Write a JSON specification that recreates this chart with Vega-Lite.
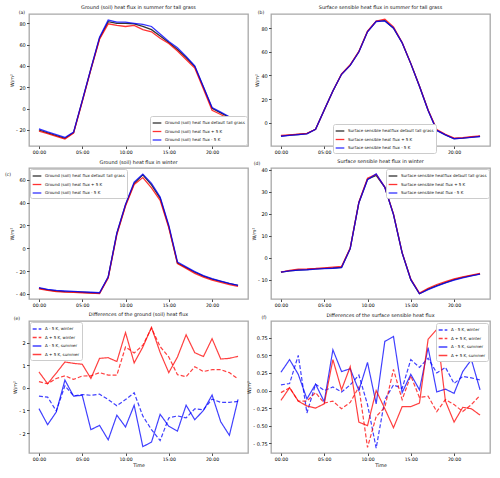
{
  "$schema": "https://vega.github.io/schema/vega-lite/v6.json",
  "background": "white",
  "padding": {"left": 4, "top": 4, "right": 2, "bottom": 2},
  "datasets": {
    "a": [
      {"h":0,"d":-20,"p":-21,"m":-19},{"h":1,"d":-22.6,"p":-23.4,"m":-21.8},{"h":2,"d":-25.2,"p":-26,"m":-24.4},
      {"h":3,"d":-27.8,"p":-28.5,"m":-27},{"h":4,"d":-22.5,"p":-23,"m":-22},{"h":5,"d":7,"p":6.5,"m":7.5},
      {"h":6,"d":37,"p":36.5,"m":37.5},{"h":7,"d":66,"p":65,"m":67},{"h":8,"d":81.5,"p":79.5,"m":83},
      {"h":9,"d":80,"p":78,"m":81},{"h":10,"d":80,"p":77,"m":81},{"h":11,"d":79.5,"p":78,"m":80},
      {"h":12,"d":77,"p":74,"m":79},{"h":13,"d":74,"p":72,"m":77},{"h":14,"d":68,"p":66,"m":70},
      {"h":15,"d":62,"p":61,"m":63},{"h":16,"d":55.5,"p":54,"m":57},{"h":17,"d":48,"p":46,"m":49},
      {"h":18,"d":39.5,"p":38,"m":40},{"h":19,"d":20,"p":18.5,"m":20.5},{"h":20,"d":0.3,"p":-1.5,"m":1},
      {"h":21,"d":-4,"p":-5.5,"m":-3.3},{"h":22,"d":-8.2,"p":-9.8,"m":-7.6},{"h":23,"d":-12.5,"p":-14,"m":-12}
    ],
    "b": [
      {"h":0,"d":-11,"p":-10.5,"m":-11.2},{"h":1,"d":-10.3,"p":-10,"m":-10.5},{"h":2,"d":-9.7,"p":-9.4,"m":-9.8},
      {"h":3,"d":-9,"p":-8.8,"m":-9.1},{"h":4,"d":-5.4,"p":-5.4,"m":-5.4},{"h":5,"d":11,"p":11,"m":11},
      {"h":6,"d":27,"p":27,"m":27},{"h":7,"d":41,"p":41.3,"m":41},{"h":8,"d":48.7,"p":49,"m":48.5},
      {"h":9,"d":60,"p":60.3,"m":59.8},{"h":10,"d":77,"p":77.3,"m":76.8},{"h":11,"d":85.6,"p":85.8,"m":85.5},
      {"h":12,"d":86.2,"p":87.5,"m":86},{"h":13,"d":79.8,"p":81,"m":80},{"h":14,"d":67.6,"p":67.8,"m":67.5},
      {"h":15,"d":50,"p":50.2,"m":50},{"h":16,"d":31,"p":31.2,"m":31},{"h":17,"d":10.7,"p":11,"m":10.6},
      {"h":18,"d":-6.2,"p":-5.5,"m":-6.3},{"h":19,"d":-10,"p":-9.5,"m":-10},{"h":20,"d":-13.2,"p":-12.8,"m":-13.3},
      {"h":21,"d":-12.7,"p":-12.3,"m":-12.8},{"h":22,"d":-12,"p":-11.6,"m":-12.1},{"h":23,"d":-11.3,"p":-10.8,"m":-11.4}
    ],
    "c": [
      {"h":0,"d":-35,"p":-35.5,"m":-34.6},{"h":1,"d":-36.5,"p":-37,"m":-36},{"h":2,"d":-37.5,"p":-38,"m":-37},
      {"h":3,"d":-38,"p":-38.4,"m":-37.5},{"h":4,"d":-38.3,"p":-38.7,"m":-37.9},{"h":5,"d":-38.6,"p":-39,"m":-38.2},
      {"h":6,"d":-39,"p":-39.4,"m":-38.6},{"h":7,"d":-39.4,"p":-39.8,"m":-39},{"h":8,"d":-25.4,"p":-26,"m":-25},
      {"h":9,"d":13,"p":12,"m":13.5},{"h":10,"d":38,"p":37,"m":38.5},{"h":11,"d":57,"p":56,"m":58},
      {"h":12,"d":64.4,"p":62,"m":65},{"h":13,"d":55.6,"p":53,"m":57},{"h":14,"d":44,"p":42,"m":45},
      {"h":15,"d":19,"p":18,"m":20},{"h":16,"d":-13,"p":-13.5,"m":-12},{"h":17,"d":-17,"p":-17.6,"m":-16.3},
      {"h":18,"d":-21,"p":-22,"m":-20.5},{"h":19,"d":-24.5,"p":-25.3,"m":-24},{"h":20,"d":-27,"p":-28,"m":-26.7},
      {"h":21,"d":-29,"p":-30,"m":-28.8},{"h":22,"d":-31,"p":-31.8,"m":-30.8},{"h":23,"d":-32.6,"p":-33.5,"m":-32.5}
    ],
    "d": [
      {"h":0,"d":-6.6,"p":-6.6,"m":-6.6},{"h":1,"d":-6,"p":-5.8,"m":-6},{"h":2,"d":-5.6,"p":-5.2,"m":-5.7},
      {"h":3,"d":-5.4,"p":-5.1,"m":-5.5},{"h":4,"d":-5.1,"p":-4.9,"m":-5.2},{"h":5,"d":-4.9,"p":-4.6,"m":-5},
      {"h":6,"d":-4.7,"p":-4.3,"m":-4.8},{"h":7,"d":-4.4,"p":-4,"m":-4.5},{"h":8,"d":4.2,"p":4.4,"m":4.1},
      {"h":9,"d":25,"p":25.2,"m":25},{"h":10,"d":35.7,"p":36.2,"m":35.5},{"h":11,"d":37.4,"p":37.9,"m":38.1},
      {"h":12,"d":32,"p":32.1,"m":32},{"h":13,"d":19.7,"p":19.8,"m":19.6},{"h":14,"d":2.2,"p":2.3,"m":2.2},
      {"h":15,"d":-10,"p":-9.8,"m":-10},{"h":16,"d":-16.4,"p":-16.1,"m":-16.4},{"h":17,"d":-14.3,"p":-13.9,"m":-14.5},
      {"h":18,"d":-12.7,"p":-12.2,"m":-12.9},{"h":19,"d":-11.3,"p":-10.9,"m":-11.5},{"h":20,"d":-10,"p":-9.6,"m":-10.2},
      {"h":21,"d":-9,"p":-8.7,"m":-9.2},{"h":22,"d":-8.2,"p":-7.9,"m":-8.3},{"h":23,"d":-7.4,"p":-7.2,"m":-7.5}
    ],
    "e": [
      {"h":0,"mw":-0.37,"pw":0.27,"ms":-0.92,"ps":0.7},{"h":1,"mw":-0.41,"pw":0.18,"ms":-1.63,"ps":0.18},
      {"h":2,"mw":-1.02,"pw":0.41,"ms":-1.07,"ps":0.65},{"h":3,"mw":0.09,"pw":0.53,"ms":0.34,"ps":1.14},
      {"h":4,"mw":-0.36,"pw":0.37,"ms":-0.37,"ps":1.08},{"h":5,"mw":-0.3,"pw":0.52,"ms":-0.33,"ps":1.04},
      {"h":6,"mw":-0.33,"pw":0.53,"ms":-1.85,"ps":0.41},{"h":7,"mw":-0.28,"pw":0.67,"ms":-1.66,"ps":1.3},
      {"h":8,"mw":-0.52,"pw":0.56,"ms":-2.3,"ps":1.33},{"h":9,"mw":-0.79,"pw":0.56,"ms":-1.21,"ps":1.16},
      {"h":10,"mw":-0.52,"pw":1.8,"ms":-1.73,"ps":2.44},{"h":11,"mw":-0.22,"pw":1.54,"ms":-0.77,"ps":1.1},
      {"h":12,"mw":-1.25,"pw":1.88,"ms":-2.6,"ps":1.8},{"h":13,"mw":-1.85,"pw":2.64,"ms":-2.4,"ps":2.67},
      {"h":14,"mw":-2.33,"pw":1.82,"ms":-1.17,"ps":1.56},{"h":15,"mw":-1.33,"pw":1.36,"ms":-1.7,"ps":0.67},
      {"h":16,"mw":-1.24,"pw":0.58,"ms":-1.91,"ps":1.36},{"h":17,"mw":-1.33,"pw":0.49,"ms":-0.77,"ps":2.34},
      {"h":18,"mw":-0.93,"pw":0.93,"ms":-1.41,"ps":1.55},{"h":19,"mw":-0.97,"pw":0.72,"ms":-1.0,"ps":1.38},
      {"h":20,"mw":-0.5,"pw":0.8,"ms":-0.32,"ps":2.17},{"h":21,"mw":-0.64,"pw":0.8,"ms":-1.5,"ps":1.27},
      {"h":22,"mw":-0.64,"pw":0.67,"ms":-2.1,"ps":1.3},{"h":23,"mw":-0.6,"pw":0.39,"ms":-0.51,"ps":1.39}
    ],
    "f": [
      {"h":0,"mw":0.08,"pw":-0.03,"ms":0.26,"ps":-0.14},{"h":1,"mw":0.1,"pw":0.04,"ms":0.44,"ps":0.04},
      {"h":2,"mw":0.5,"pw":-0.15,"ms":0.23,"ps":-0.15},{"h":3,"mw":-0.32,"pw":-0.15,"ms":-0.12,"ps":-0.22},
      {"h":4,"mw":0.09,"pw":-0.03,"ms":0.09,"ps":-0.25},{"h":5,"mw":0.0,"pw":-0.18,"ms":-0.16,"ps":-0.19},
      {"h":6,"mw":0.05,"pw":-0.15,"ms":0.58,"ps":0.44},{"h":7,"mw":-0.02,"pw":-0.26,"ms":0.27,"ps":0.01},
      {"h":8,"mw":0.08,"pw":-0.17,"ms":0.31,"ps":0.34},{"h":9,"mw":0.22,"pw":0.05,"ms":0.0,"ps":-0.45},
      {"h":10,"mw":-0.2,"pw":-0.81,"ms":0.4,"ps":-0.5},{"h":11,"mw":-0.82,"pw":-0.37,"ms":-0.19,"ps":0.0},
      {"h":12,"mw":-0.13,"pw":-0.24,"ms":0.7,"ps":-0.26},{"h":13,"mw":0.08,"pw":0.3,"ms":0.77,"ps":-0.53},
      {"h":14,"mw":0.03,"pw":-0.13,"ms":-0.03,"ps":-0.23},{"h":15,"mw":0.44,"pw":0.21,"ms":0.23,"ps":-0.23},
      {"h":16,"mw":0.33,"pw":-0.1,"ms":0.01,"ps":-0.18},{"h":17,"mw":0.46,"pw":-0.08,"ms":0.61,"ps":0.73},
      {"h":18,"mw":0.25,"pw":-0.3,"ms":-0.02,"ps":0.87},{"h":19,"mw":0.33,"pw":-0.13,"ms":0.02,"ps":-0.15},
      {"h":20,"mw":0.1,"pw":-0.2,"ms":-0.04,"ps":-0.45},{"h":21,"mw":0.2,"pw":-0.3,"ms":0.27,"ps":-0.24},
      {"h":22,"mw":0.18,"pw":-0.2,"ms":0.44,"ps":-0.26},{"h":23,"mw":0.15,"pw":-0.07,"ms":0.01,"ps":-0.35}
    ]
  },
  "columns": 2,
  "bounds": "flush",
  "spacing": {"row": 22, "column": 23},
  "concat": [
    {
      "width": 219, "height": 132,
      "title": {"text": "Ground (soil) heat flux in summer for tall grass", "offset": -0.3},
      "layer": [
        {
          "data": {"name": "a"},
          "transform": [{"fold": ["d", "p", "m"], "as": ["s", "v"]}],
          "mark": {"type": "line", "strokeWidth": 1.3, "opacity": 0.8},
          "encoding": {
            "x": {"field": "h", "type": "quantitative", "scale": {"domain": [-1.15, 24.15], "nice": false, "zero": false},
                  "axis": {"values": [0, 5, 10, 15, 20], "tickCount": 20, "labelExpr": "(datum.value < 10 ? '0' : '') + datum.value + ':00'", "title": null}},
            "y": {"field": "v", "type": "quantitative", "scale": {"domain": [-35, 88.7], "nice": false, "zero": false},
                  "axis": {"values": [-20, 0, 20, 40, 60, 80], "tickCount": 20, "labelOverlap": false, "labelExpr": "datum.value < 0 ? '- ' + format(-datum.value, 'd') : format(datum.value, 'd')", "title": "W/m²"}},
            "color": {"field": "s", "type": "nominal", "scale": {"domain": ["d", "p", "m"], "range": ["#000000", "#ff0000", "#0000ff"]},
                      "legend": {"orient": "bottom-right", "offset": 1, "labelExpr": "datum.label == 'd' ? 'Ground (soil) heat flux default tall grass' : datum.label == 'p' ? 'Ground (soil) heat flux + 5 K' : 'Ground (soil) heat flux - 5 K'"}}
          }
        },
        {
          "data": {"values": [{}]},
          "mark": {"type": "text", "text": "(a)", "fontSize": 4.5, "fill": "#111111"},
          "encoding": {"x": {"datum": -1.96}, "y": {"datum": 89.6}}
        }
      ]
    },
    {
      "width": 219, "height": 132,
      "title": {"text": "Surface sensible heat flux in summer for tall grass", "offset": -0.3},
      "layer": [
        {
          "data": {"name": "b"},
          "transform": [{"fold": ["d", "p", "m"], "as": ["s", "v"]}],
          "mark": {"type": "line", "strokeWidth": 1.3, "opacity": 0.8},
          "encoding": {
            "x": {"field": "h", "type": "quantitative", "scale": {"domain": [-1.15, 24.15], "nice": false, "zero": false},
                  "axis": {"values": [0, 5, 10, 15, 20], "tickCount": 20, "labelExpr": "(datum.value < 10 ? '0' : '') + datum.value + ':00'", "title": null}},
            "y": {"field": "v", "type": "quantitative", "scale": {"domain": [-19.4, 91.8], "nice": false, "zero": false},
                  "axis": {"values": [0, 20, 40, 60, 80], "tickCount": 20, "labelOverlap": false, "labelExpr": "datum.value < 0 ? '- ' + format(-datum.value, 'd') : format(datum.value, 'd')", "title": "W/m²"}},
            "color": {"field": "s", "type": "nominal", "scale": {"domain": ["d", "p", "m"], "range": ["#000000", "#ff0000", "#0000ff"]},
                      "legend": {"orient": "none", "legendX": 62, "legendY": 110, "labelExpr": "datum.label == 'd' ? 'Surface sensible heatflux default tall grass' : datum.label == 'p' ? 'Surface sensible heat flux + 5 K' : 'Surface sensible heat flux - 5 K'"}}
          }
        },
        {
          "data": {"values": [{}]},
          "mark": {"type": "text", "text": "(b)", "fontSize": 4.5, "fill": "#111111"},
          "encoding": {"x": {"datum": -2.3}, "y": {"datum": 92.6}}
        }
      ]
    },
    {
      "width": 219, "height": 131,
      "title": {"text": "Ground (soil) heat flux in winter", "offset": 3},
      "layer": [
        {
          "data": {"name": "c"},
          "transform": [{"fold": ["d", "p", "m"], "as": ["s", "v"]}],
          "mark": {"type": "line", "strokeWidth": 1.3, "opacity": 0.8},
          "encoding": {
            "x": {"field": "h", "type": "quantitative", "scale": {"domain": [-1.15, 24.15], "nice": false, "zero": false},
                  "axis": {"values": [0, 5, 10, 15, 20], "tickCount": 20, "labelExpr": "(datum.value < 10 ? '0' : '') + datum.value + ':00'", "title": null}},
            "y": {"field": "v", "type": "quantitative", "scale": {"domain": [-44.5, 70.4], "nice": false, "zero": false},
                  "axis": {"values": [-40, -20, 0, 20, 40, 60], "tickCount": 20, "labelOverlap": false, "labelExpr": "datum.value < 0 ? '- ' + format(-datum.value, 'd') : format(datum.value, 'd')", "title": "W/m²"}},
            "color": {"field": "s", "type": "nominal", "scale": {"domain": ["d", "p", "m"], "range": ["#000000", "#ff0000", "#0000ff"]},
                      "legend": {"orient": "top-left", "offset": 1, "labelExpr": "datum.label == 'd' ? 'Ground (soil) heat flux default tall grass' : datum.label == 'p' ? 'Ground (soil) heat flux + 5 K' : 'Ground (soil) heat flux - 5 K'"}}
          }
        },
        {
          "data": {"values": [{}]},
          "mark": {"type": "text", "text": "(c)", "fontSize": 4.5, "fill": "#111111"},
          "encoding": {"x": {"datum": -3.57}, "y": {"datum": 64.3}}
        }
      ]
    },
    {
      "width": 219, "height": 131,
      "title": {"text": "Surface sensible heat flux in winter", "offset": -3.3},
      "layer": [
        {
          "data": {"name": "d"},
          "transform": [{"fold": ["d", "p", "m"], "as": ["s", "v"]}],
          "mark": {"type": "line", "strokeWidth": 1.3, "opacity": 0.8},
          "encoding": {
            "x": {"field": "h", "type": "quantitative", "scale": {"domain": [-1.15, 24.15], "nice": false, "zero": false},
                  "axis": {"values": [0, 5, 10, 15, 20], "tickCount": 20, "labelExpr": "(datum.value < 10 ? '0' : '') + datum.value + ':00'", "title": null}},
            "y": {"field": "v", "type": "quantitative", "scale": {"domain": [-18.8, 40.8], "nice": false, "zero": false},
                  "axis": {"values": [-10, 0, 10, 20, 30, 40], "tickCount": 20, "labelOverlap": false, "labelExpr": "datum.value < 0 ? '- ' + format(-datum.value, 'd') : format(datum.value, 'd')", "title": "W/m²"}},
            "color": {"field": "s", "type": "nominal", "scale": {"domain": ["d", "p", "m"], "range": ["#000000", "#ff0000", "#0000ff"]},
                      "legend": {"orient": "top-right", "offset": 1, "labelExpr": "datum.label == 'd' ? 'Surface sensible heatflux default tall grass' : datum.label == 'p' ? 'Surface sensible heat flux + 5 K' : 'Surface sensible heat flux - 5 K'"}}
          }
        },
        {
          "data": {"values": [{}]},
          "mark": {"type": "text", "text": "(d)", "fontSize": 4.5, "fill": "#111111"},
          "encoding": {"x": {"datum": -2.77}, "y": {"datum": 42.6}}
        }
      ]
    },
    {
      "width": 219, "height": 132,
      "title": {"text": "Differences of the ground (soil) heat flux", "offset": -1.3},
      "layer": [
        {
          "data": {"name": "e"},
          "transform": [{"fold": ["mw", "pw", "ms", "ps"], "as": ["s", "v"]}],
          "mark": {"type": "line", "strokeWidth": 1.2, "opacity": 0.75},
          "encoding": {
            "x": {"field": "h", "type": "quantitative", "scale": {"domain": [-1.15, 24.15], "nice": false, "zero": false},
                  "axis": {"values": [0, 5, 10, 15, 20], "tickCount": 20, "labelExpr": "(datum.value < 10 ? '0' : '') + datum.value + ':00'", "title": "Time"}},
            "y": {"field": "v", "type": "quantitative", "scale": {"domain": [-2.88, 2.95], "nice": false, "zero": false},
                  "axis": {"values": [-2, -1, 0, 1, 2], "tickCount": 20, "labelOverlap": false, "labelExpr": "datum.value < 0 ? '- ' + format(-datum.value, 'd') : format(datum.value, 'd')", "title": "W/m²"}},
            "color": {"field": "s", "type": "nominal", "scale": {"domain": ["mw", "pw", "ms", "ps"], "range": ["#0000ff", "#ff0000", "#0000ff", "#ff0000"]},
                      "legend": {"orient": "top-left", "offset": 1, "labelExpr": "datum.label == 'mw' ? 'Δ - 5 K, winter' : datum.label == 'pw' ? 'Δ + 5 K, winter' : datum.label == 'ms' ? 'Δ - 5 K, summer' : 'Δ + 5 K, summer'"}},
            "strokeDash": {"field": "s", "type": "nominal", "scale": {"domain": ["mw", "pw", "ms", "ps"], "range": [[4, 2], [4, 2], [1, 0], [1, 0]]},
                      "legend": {"orient": "top-left", "offset": 1, "labelExpr": "datum.label == 'mw' ? 'Δ - 5 K, winter' : datum.label == 'pw' ? 'Δ + 5 K, winter' : datum.label == 'ms' ? 'Δ - 5 K, summer' : 'Δ + 5 K, summer'"}}
          }
        },
        {
          "data": {"values": [{}]},
          "mark": {"type": "text", "text": "(e)", "fontSize": 4.5, "fill": "#111111"},
          "encoding": {"x": {"datum": -2.54}, "y": {"datum": 3.04}}
        }
      ]
    },
    {
      "width": 219, "height": 132,
      "title": {"text": "Differences of the surface sensible heat flux", "offset": -2.3},
      "layer": [
        {
          "data": {"name": "f"},
          "transform": [{"fold": ["mw", "pw", "ms", "ps"], "as": ["s", "v"]}],
          "mark": {"type": "line", "strokeWidth": 1.2, "opacity": 0.75},
          "encoding": {
            "x": {"field": "h", "type": "quantitative", "scale": {"domain": [-1.15, 24.15], "nice": false, "zero": false},
                  "axis": {"values": [0, 5, 10, 15, 20], "tickCount": 20, "labelExpr": "(datum.value < 10 ? '0' : '') + datum.value + ':00'", "title": "Time"}},
            "y": {"field": "v", "type": "quantitative", "scale": {"domain": [-0.89, 0.99], "nice": false, "zero": false},
                  "axis": {"values": [-0.75, -0.5, -0.25, 0, 0.25, 0.5, 0.75], "tickCount": 20, "labelOverlap": false, "labelExpr": "datum.value < 0 ? '- ' + format(-datum.value, '.2f') : format(datum.value, '.2f')", "title": "W/m²"}},
            "color": {"field": "s", "type": "nominal", "scale": {"domain": ["mw", "pw", "ms", "ps"], "range": ["#0000ff", "#ff0000", "#0000ff", "#ff0000"]},
                      "legend": {"orient": "top-right", "offset": 2, "labelExpr": "datum.label == 'mw' ? 'Δ - 5 K, winter' : datum.label == 'pw' ? 'Δ + 5 K, winter' : datum.label == 'ms' ? 'Δ - 5 K, summer' : 'Δ + 5 K, summer'"}},
            "strokeDash": {"field": "s", "type": "nominal", "scale": {"domain": ["mw", "pw", "ms", "ps"], "range": [[4, 2], [4, 2], [1, 0], [1, 0]]},
                      "legend": {"orient": "top-right", "offset": 2, "labelExpr": "datum.label == 'mw' ? 'Δ - 5 K, winter' : datum.label == 'pw' ? 'Δ + 5 K, winter' : datum.label == 'ms' ? 'Δ - 5 K, summer' : 'Δ + 5 K, summer'"}}
          }
        },
        {
          "data": {"values": [{}]},
          "mark": {"type": "text", "text": "(f)", "fontSize": 4.5, "fill": "#111111"},
          "encoding": {"x": {"datum": -1.96}, "y": {"datum": 1.03}}
        }
      ]
    }
  ],
  "resolve": {"scale": {"color": "independent", "strokeDash": "independent"}},
  "config": {
    "font": "DejaVu Sans",
    "view": {"stroke": "#a8a8a8", "strokeWidth": 1.3},
    "axis": {"domain": false, "grid": false, "tickColor": "#222222", "tickSize": 2.5, "tickWidth": 0.8,
             "labelFontSize": 5, "labelColor": "#000000", "labelPadding": 1.2, "labelFont": "DejaVu Sans",
             "labelOverlap": false, "labelBound": false, "labelFlush": false,
             "titleFontSize": 4.8, "titleFontWeight": "normal", "titleColor": "#111111", "titlePadding": 1.5, "titleFont": "DejaVu Sans"},
    "axisX": {"labelFontSize": 4.6},
    "title": {"fontSize": 4.9, "fontWeight": "normal", "color": "#111111", "font": "DejaVu Sans"},
    "legend": {"title": null, "labelFontSize": 4, "labelFont": "DejaVu Sans", "labelColor": "#111111", "symbolType": "stroke",
               "symbolSize": 75, "symbolStrokeWidth": 1.3, "rowPadding": 0.5, "padding": 2, "labelOffset": 3,
               "strokeColor": "#cccccc", "fillColor": "#ffffff", "cornerRadius": 2, "labelLimit": 300}
  }
}
